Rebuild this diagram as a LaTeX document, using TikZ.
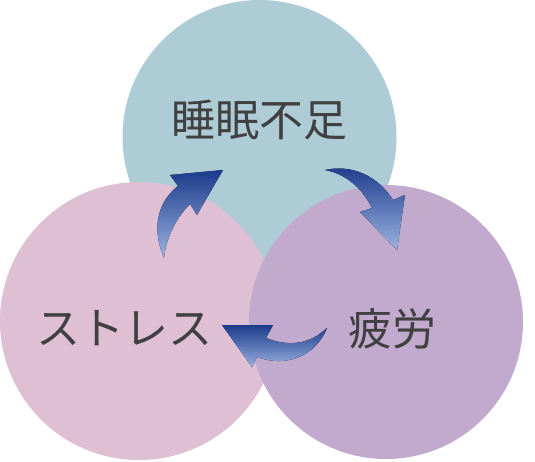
\documentclass[tikz,border=0pt]{standalone}
\usepackage{fontspec}
\newfontfamily\jpfont{Noto Sans CJK JP}
\usetikzlibrary{positioning}
\definecolor{sleepcol}{HTML}{AECCD6}
\definecolor{stresscol}{HTML}{DEBFD4}
\definecolor{fatiguecol}{HTML}{C1AACE}
\definecolor{labelcol}{HTML}{404040}
\definecolor{arrowdark}{HTML}{1C3A8C}
\definecolor{arrowlight}{HTML}{9BB3E0}

\begin{document}
\begin{tikzpicture}[x=1pt, y=-1pt,
  blob/.style={circle, inner sep=0pt, draw=none},
  term/.style={font=\jpfont\fontsize{44}{44}\selectfont, text=labelcol, inner sep=0pt},
  flow/.style={top color=arrowdark, bottom color=arrowlight, draw=none}]
  \useasboundingbox (0,0) rectangle (535,461);
  % circles, back to front
  \node[blob, fill=sleepcol, minimum size=274pt] (slp) at (259.5,137) {};
  \node[blob, fill=stresscol, minimum size=278pt] (str) at (139,321) {};
  \node[blob, fill=fatiguecol, minimum size=274pt] (fat) at (386,322) {};
  % labels
  \node[term] (slpT) at (259,120) {睡眠不足};
  \node[term] (strT) at (124,328) {ストレス};
  \node[term] (fatT) at (392,329) {疲労};
  % curved arrows
  \fill[flow] (164,258) .. controls (150,225) and (160,200) .. (178,186)
    -- (170,175) -- (223,170) -- (197,215) -- (190,204)
    .. controls (176,218) and (166,238) .. (164,258);
  \fill[flow] (325,170) .. controls (352,164) and (378,176) .. (393,200)
    -- (405,195) -- (397,250) -- (360,212) -- (372,208)
    .. controls (362,188) and (346,174) .. (325,170);
  \fill[flow] (327,328) .. controls (308,346) and (286,346) .. (266,338)
    -- (273,325) -- (222,325) -- (252,367) -- (257,357)
    .. controls (286,368) and (316,356) .. (327,328);
\end{tikzpicture}
\end{document}
